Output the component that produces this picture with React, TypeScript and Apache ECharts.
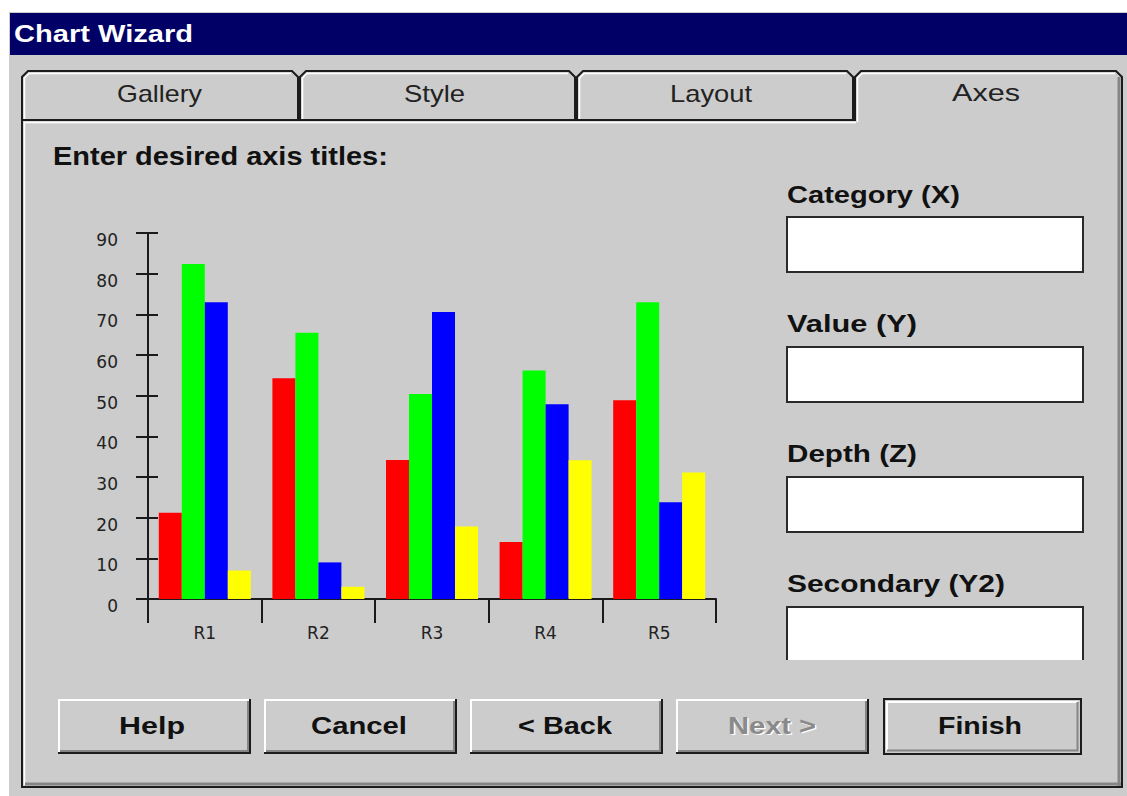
import React, { useEffect, useRef } from "react";
import * as echarts from "echarts";

// ---- data ----
const categories = ["R1", "R2", "R3", "R4", "R5"];
const redValues = [21.2, 54.3, 34.2, 14, 48.9];
const greenValues = [82.4, 65.5, 50.4, 56.2, 73];
const blueValues = [73, 9, 70.6, 47.9, 23.8];
const yellowValues = [7, 3, 17.8, 34.1, 31.1];
const yMin = 0;
const yMax = 90;
const yInterval = 10;

// ---- texts ----
const titleText = "Chart Wizard";
const promptText = "Enter desired axis titles:";
const tabLabels = ["Gallery", "Style", "Layout", "Axes"];
const fieldLabels = ["Category (X)", "Value (Y)", "Depth (Z)", "Secondary (Y2)"];
const buttonLabels = ["Help", "Cancel", "< Back", "Next >", "Finish"];

// ---- layout (decoration only) ----
const GRAY = "#cccccc";
const DARK = "#1c1c1c";
const SHADOW = "#858585";
const WHITE = "#ffffff";
const UI_FONT = "Liberation Sans";

const tabSpans = [
  [22, 298],
  [300, 575],
  [577, 853],
  [855, 1122],
];
const tabTextLayout = [
  { cx: 159.5, w: 85 },
  { cx: 434.5, w: 61 },
  { cx: 711, w: 82 },
  { cx: 986, w: 68 },
];
const fieldLayout = [
  { cy: 194.5, w: 173, top: 217, bottom: 272 },
  { cy: 323.5, w: 130, top: 347, bottom: 402 },
  { cy: 453.5, w: 130, top: 477, bottom: 532 },
  { cy: 584, w: 218, top: 607, bottom: 660 },
];
const buttonLayout = [
  { x1: 58, x2: 251, tx1: 119, tx2: 185 },
  { x1: 264, x2: 457, tx1: 311, tx2: 407 },
  { x1: 470, x2: 663, tx1: 518, tx2: 612 },
  { x1: 676, x2: 869, tx1: 728, tx2: 816 },
  { x1: 884, x2: 1081, tx1: 938, tx2: 1022 },
];

let measureCtx: CanvasRenderingContext2D | null = null;
function fitScale(text: string, size: number, weight: string, target: number) {
  if (!measureCtx) measureCtx = document.createElement("canvas").getContext("2d");
  if (!measureCtx) return 1;
  measureCtx.font = `${weight} ${size}px "${UI_FONT}"`;
  const w = measureCtx.measureText(text).width;
  return w > 0 ? target / w : 1;
}

function txt(
  text: string,
  x: number,
  y: number,
  size: number,
  weight: string,
  fill: string,
  align: "left" | "center",
  targetWidth: number,
  z = 20
) {
  return {
    type: "text",
    x,
    y,
    z,
    scaleX: fitScale(text, size, weight, targetWidth),
    style: {
      text,
      fill,
      fontSize: size,
      fontFamily: UI_FONT,
      fontWeight: weight,
      align,
      textAlign: align,
      verticalAlign: "middle",
      textVerticalAlign: "middle",
    },
  };
}

function ln(x1: number, y1: number, x2: number, y2: number, stroke: string, w: number, z = 5) {
  return { type: "line", z, shape: { x1, y1, x2, y2 }, style: { stroke, lineWidth: w } };
}

function pl(points: number[][], stroke: string, w: number, z = 5) {
  return { type: "polyline", z, shape: { points }, style: { stroke, lineWidth: w, fill: "none" } };
}

function buildGraphics() {
  const g: any[] = [];
  // dialog background
  g.push({ type: "rect", z: -10, shape: { x: 9, y: 12, width: 1118, height: 784 }, style: { fill: GRAY } });
  // title bar
  g.push({ type: "rect", z: -9, shape: { x: 10, y: 13, width: 1117, height: 42 }, style: { fill: "#000066" } });
  g.push(txt(titleText, 14, 34.5, 23, "bold", WHITE, "left", 179));

  // inactive tabs
  for (let i = 0; i < 3; i++) {
    const [x1, x2] = tabSpans[i];
    g.push(pl([[x1, 120], [x1, 77], [x1 + 6, 71], [x2 - 6, 71], [x2, 77], [x2, 120]], DARK, 2));
    g.push(pl([[x1 + 2.5, 119], [x1 + 2.5, 78], [x1 + 7, 73.5], [x2 - 7, 73.5]], WHITE, 1.5, 4));
  }
  // active tab + right panel edge
  {
    const [x1, x2] = tabSpans[3];
    g.push(pl([[x1, 120], [x1, 77], [x1 + 6, 71], [x2 - 6, 71], [x2, 77], [x2, 788]], DARK, 2));
    g.push(pl([[x1 + 2.5, 122], [x1 + 2.5, 78], [x1 + 7, 73.5], [x2 - 7, 73.5]], WHITE, 1.5, 4));
    g.push(ln(x2 - 3, 77, x2 - 3, 786, SHADOW, 3, 4));
  }
  // panel
  g.push(ln(22, 120, 856, 120, DARK, 2));
  g.push(ln(24, 122.5, 856, 122.5, WHITE, 1.5, 4));
  g.push(ln(22, 119, 22, 788, DARK, 2));
  g.push(ln(24.5, 122, 24.5, 785, WHITE, 1.5, 4));
  g.push(ln(21, 787, 1123, 787, DARK, 2));
  g.push(ln(25, 784, 1121, 784, SHADOW, 3, 4));

  // tab labels
  tabLabels.forEach((t, i) => {
    const l = tabTextLayout[i];
    g.push(txt(t, l.cx, 93.5, 23, "normal", "#222222", "center", l.w));
  });

  // prompt
  g.push(txt(promptText, 53, 157, 25, "bold", "#111111", "left", 335));

  // field labels and boxes
  fieldLabels.forEach((t, i) => {
    const l = fieldLayout[i];
    g.push(txt(t, 787, l.cy, 24, "bold", "#111111", "left", l.w));
    g.push({
      type: "rect",
      z: 3,
      shape: { x: 787, y: l.top, width: 296, height: l.bottom - l.top },
      style: { fill: WHITE },
    });
    if (i < 3) {
      g.push({
        type: "rect",
        z: 4,
        shape: { x: 787, y: l.top, width: 296, height: l.bottom - l.top },
        style: { fill: "none", stroke: "#2a2a2a", lineWidth: 2 },
      });
    } else {
      g.push(pl([[787, l.bottom], [787, l.top], [1083, l.top], [1083, l.bottom]], "#2a2a2a", 2, 4));
    }
  });

  // buttons
  buttonLabels.forEach((t, i) => {
    const b = buttonLayout[i];
    const y1 = 699;
    const y2 = 754;
    const isDefault = i === 4;
    g.push({
      type: "rect",
      z: 3,
      shape: { x: b.x1, y: y1, width: b.x2 - b.x1, height: y2 - y1 },
      style: { fill: GRAY },
    });
    if (isDefault) {
      g.push({
        type: "rect",
        z: 6,
        shape: { x: b.x1, y: y1, width: b.x2 - b.x1, height: y2 - y1 },
        style: { fill: "none", stroke: DARK, lineWidth: 2 },
      });
      g.push(pl([[b.x1 + 3, y2 - 3], [b.x1 + 3, y1 + 3], [b.x2 - 3, y1 + 3]], WHITE, 2, 5));
      g.push(pl([[b.x1 + 3, y2 - 3.5], [b.x2 - 3.5, y2 - 3.5], [b.x2 - 3.5, y1 + 3]], SHADOW, 2, 5));
    } else {
      g.push(pl([[b.x1 + 1, y2 - 1], [b.x1 + 1, y1 + 1], [b.x2 - 1, y1 + 1]], WHITE, 2, 5));
      g.push(pl([[b.x1, y2 - 1], [b.x2 - 1, y2 - 1], [b.x2 - 1, y1]], DARK, 2, 6));
      g.push(pl([[b.x1 + 2, y2 - 3], [b.x2 - 3, y2 - 3], [b.x2 - 3, y1 + 2]], SHADOW, 2, 5));
    }
    const cx = (b.tx1 + b.tx2) / 2;
    const w = b.tx2 - b.tx1;
    if (i === 3) {
      g.push(txt(t, cx + 1.5, 727, 24, "bold", WHITE, "center", w, 19));
      g.push(txt(t, cx, 725.5, 24, "bold", "#8a8a8a", "center", w, 20));
    } else {
      g.push(txt(t, cx, 725.5, 24, "bold", "#111111", "center", w));
    }
  });
  return g;
}

export default function App() {
  const ref = useRef<HTMLDivElement>(null);
  useEffect(() => {
    if (!ref.current) return;
    const chart = echarts.init(ref.current, undefined, { renderer: "svg" });
    const axisColor = "#1a1a1a";
    const labelFont = { fontFamily: "DejaVu Sans", fontSize: 17, color: "#222222" };
    chart.setOption({
      animation: false,
      backgroundColor: "#ffffff",
      grid: { left: 148, top: 233, width: 568, height: 366, containLabel: false },
      xAxis: {
        type: "category",
        data: categories,
        axisLine: { show: true, lineStyle: { color: axisColor, width: 2 } },
        axisTick: { show: true, length: 24, lineStyle: { color: axisColor, width: 2 } },
        axisLabel: { ...labelFont, margin: 25 },
        splitLine: { show: false },
        z: 1,
      },
      yAxis: [
        {
          type: "value",
          min: yMin,
          max: yMax,
          interval: yInterval,
          position: "left",
          axisLine: { show: true, lineStyle: { color: axisColor, width: 2 } },
          axisTick: { show: true, inside: false, length: 12, lineStyle: { color: axisColor, width: 2 } },
          axisLabel: { ...labelFont, margin: 30, verticalAlign: "top", lineHeight: 14 },
          splitLine: { show: false },
          z: 1,
        },
        {
          type: "value",
          min: yMin,
          max: yMax,
          interval: yInterval,
          position: "left",
          axisLine: { show: false },
          axisTick: { show: true, inside: true, length: 10, lineStyle: { color: axisColor, width: 2 } },
          axisLabel: { show: false },
          splitLine: { show: false },
          z: 1,
        },
      ],
      series: [
        { name: "red", type: "bar", data: redValues, barWidth: 23, barGap: "0%", itemStyle: { color: "#ff0000" }, z: 3 },
        { name: "green", type: "bar", data: greenValues, barWidth: 23, barGap: "0%", itemStyle: { color: "#00ff00" }, z: 3 },
        { name: "blue", type: "bar", data: blueValues, barWidth: 23, barGap: "0%", itemStyle: { color: "#0000ff" }, z: 3 },
        { name: "yellow", type: "bar", data: yellowValues, barWidth: 23, barGap: "0%", itemStyle: { color: "#ffff00" }, z: 3 },
      ],
      graphic: { elements: buildGraphics() },
    });
    return () => chart.dispose();
  }, []);
  return (
    <div style={{ position: "fixed", left: 0, top: 0, width: 1127, height: 796, background: "#ffffff" }}>
      <div ref={ref} style={{ width: 1127, height: 796 }} />
    </div>
  );
}
